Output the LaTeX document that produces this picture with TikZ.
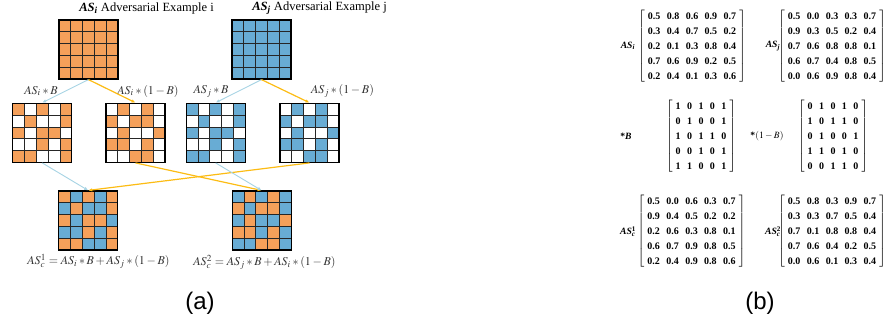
\documentclass[tikz,border=0pt]{standalone}
\usepackage{mathptmx}
\usepackage{fontspec}
\setmainfont{Liberation Serif}
\newfontfamily\capfont{Liberation Sans}
\usetikzlibrary{arrows.meta}

\definecolor{cello}{RGB}{245,160,90}
\definecolor{cellb}{RGB}{104,172,212}
\definecolor{arrb}{RGB}{168,212,228}
\definecolor{arro}{RGB}{252,188,20}

\setlength{\tabcolsep}{2.4pt}

\tikzset{
    gridframe/.style={draw, line width=0.9pt, minimum size=44.25pt, inner sep=0pt},
    bluearr/.style={draw=arrb, line width=0.7pt, -{Latex[length=3pt,width=2.6pt]}},
    orangearr/.style={draw=arro, line width=0.9pt, -{Latex[length=3pt,width=2.6pt]}},
    title/.style={font=\fontsize{9.4}{11}\selectfont, anchor=west, inner sep=0pt},
    opname/.style={font=\fontsize{9}{11}\selectfont, text=black!80, inner sep=0pt},
    matlabel/.style={font=\fontsize{7.2}{8}\selectfont, inner sep=0pt},
    matbox/.style={font=\fontsize{7.5}{11.25}\selectfont\bfseries, inner sep=0pt},
    sublabel/.style={font=\capfont\fontsize{18}{20}\selectfont, inner sep=0pt},
}

% 5x5 mask grid: centre x, centre y, colour where B=1, colour where B=0
\newcommand{\maskgrid}[4]{%
    \foreach \mv [count=\k from 0] in {1,0,1,0,1, 0,1,0,0,1, 1,0,1,1,0, 0,0,1,0,1, 1,1,0,0,1}{%
        \pgfmathtruncatemacro{\gr}{int(\k/5)}%
        \pgfmathtruncatemacro{\gc}{mod(\k,5)}%
        \ifnum\mv=1\relax\def\cellc{#3}\else\def\cellc{#4}\fi
        \filldraw[fill=\cellc, draw=black!85, line width=0.6pt]
            ({#1-29.5+\gc*11.8},{#2-29.5+\gr*11.8}) rectangle ++(11.8,11.8);
    }%
}

\begin{document}
\begin{tikzpicture}[x=0.75pt, y=-0.75pt]
        \useasboundingbox (0,0) rectangle (885,326);
        % Adversarial examples
            \maskgrid{88.5}{49.5}{cello}{cello}
            \maskgrid{261.5}{49.5}{cellb}{cellb}
            \node[gridframe] (asi) at (88.5,49.5) {};
            \node[gridframe] (asj) at (261.5,49.5) {};
            \node[title] (titlei) at (79,8) {\textbf{\textit{AS\textsubscript{i}}} Adversarial Example i};
            \node[title] (titlej) at (252,8) {\textbf{\textit{AS\textsubscript{j}}} Adversarial Example j};
        % Masked parts
            \maskgrid{42.2}{132.8}{cello}{white}
            \maskgrid{135.5}{132.8}{white}{cello}
            \maskgrid{215.6}{132.8}{cellb}{white}
            \maskgrid{309.5}{132.8}{white}{cellb}
            \node[gridframe] (asib) at (42.2,132.8) {};
            \node[gridframe] (asinb) at (135.5,132.8) {};
            \node[gridframe] (asjb) at (215.6,132.8) {};
            \node[gridframe] (asjnb) at (309.5,132.8) {};
            \node[opname] (opib) at (41,91) {$AS_i * B$};
            \node[opname] (opinb) at (148,91) {$AS_i *(1-B)$};
            \node[opname] (opjb) at (211,91) {$AS_j * B$};
            \node[opname] (opjnb) at (342.5,91) {$AS_j *(1-B)$};
        % Crossed examples
            \maskgrid{88.2}{220.5}{cello}{cellb}
            \maskgrid{261.6}{220.5}{cellb}{cello}
            \node[gridframe] (asca) at (88.2,220.5) {};
            \node[gridframe] (ascb) at (261.6,220.5) {};
            \node[opname] (eqa) at (98.5,261) {$AS_c^1 = AS_i * B + AS_j *(1-B)$};
            \node[opname] (eqb) at (264.5,262) {$AS_c^2 = AS_j * B + AS_i *(1-B)$};
        % Arrows
            \draw[bluearr] (asi.south) -- (asib.north);
            \draw[orangearr] (asi.south) -- (asinb.north);
            \draw[bluearr] (asj.south) -- (asjb.north);
            \draw[orangearr] (asj.south) -- (asjnb.north);
            \draw[bluearr] (asib.south) -- (asca.north);
            \draw[orangearr] (asjnb.south) -- (asca.north);
            \draw[orangearr] (asinb.south) -- (ascb.north);
            \draw[bluearr] (asjb.south) -- (ascb.north);
        % Matrices
            \node[matlabel] (labi) at (628,46) {\textbf{\textit{AS\textsubscript{i}}}};
            \node[matbox] (mati) at (692,46) {$\left[\begin{tabular}{ccccc}
                0.5 & 0.8 & 0.6 & 0.9 & 0.7\\
                0.3 & 0.4 & 0.7 & 0.5 & 0.2\\
                0.2 & 0.1 & 0.3 & 0.8 & 0.4\\
                0.7 & 0.6 & 0.9 & 0.2 & 0.5\\
                0.2 & 0.4 & 0.1 & 0.3 & 0.6
            \end{tabular}\right]$};
            \node[matlabel] (labj) at (773,46) {\textbf{\textit{AS\textsubscript{j}}}};
            \node[matbox] (matj) at (832,46) {$\left[\begin{tabular}{ccccc}
                0.5 & 0.0 & 0.3 & 0.3 & 0.7\\
                0.9 & 0.3 & 0.5 & 0.2 & 0.4\\
                0.7 & 0.6 & 0.8 & 0.8 & 0.1\\
                0.6 & 0.7 & 0.4 & 0.8 & 0.5\\
                0.0 & 0.6 & 0.9 & 0.8 & 0.4
            \end{tabular}\right]$};
            \node[matlabel] (labb) at (626,136.5) {\textbf{*\textit{B}}};
            \node[matbox] (matb) at (701,136.5) {$\left[\begin{tabular}{ccccc}
                1 & 0 & 1 & 0 & 1\\
                0 & 1 & 0 & 0 & 1\\
                1 & 0 & 1 & 1 & 0\\
                0 & 0 & 1 & 0 & 1\\
                1 & 1 & 0 & 0 & 1
            \end{tabular}\right]$};
            \node[matlabel] (labnb) at (767,136.5) {\textbf{*}$(1-B)$};
            \node[matbox] (matnb) at (833,136.5) {$\left[\begin{tabular}{ccccc}
                0 & 1 & 0 & 1 & 0\\
                1 & 0 & 1 & 1 & 0\\
                0 & 1 & 0 & 0 & 1\\
                1 & 1 & 0 & 1 & 0\\
                0 & 0 & 1 & 1 & 0
            \end{tabular}\right]$};
            \node[matlabel] (labca) at (628,231.5) {\textbf{\textit{AS}}\rlap{\textsuperscript{\textbf{1}}}\textsubscript{\textbf{\textit{c}}}};
            \node[matbox] (matca) at (691.5,231.5) {$\left[\begin{tabular}{ccccc}
                0.5 & 0.0 & 0.6 & 0.3 & 0.7\\
                0.9 & 0.4 & 0.5 & 0.2 & 0.2\\
                0.2 & 0.6 & 0.3 & 0.8 & 0.1\\
                0.6 & 0.7 & 0.9 & 0.8 & 0.5\\
                0.2 & 0.4 & 0.9 & 0.8 & 0.6
            \end{tabular}\right]$};
            \node[matlabel] (labcb) at (773,231.5) {\textbf{\textit{AS}}\rlap{\textsuperscript{\textbf{2}}}\textsubscript{\textbf{\textit{c}}}};
            \node[matbox] (matcb) at (832,231.5) {$\left[\begin{tabular}{ccccc}
                0.5 & 0.8 & 0.3 & 0.9 & 0.7\\
                0.3 & 0.3 & 0.7 & 0.5 & 0.4\\
                0.7 & 0.1 & 0.8 & 0.8 & 0.4\\
                0.7 & 0.6 & 0.4 & 0.2 & 0.5\\
                0.0 & 0.6 & 0.1 & 0.3 & 0.4
            \end{tabular}\right]$};
        % Sub-figure labels
            \node[sublabel] (capa) at (200,303) {(a)};
            \node[sublabel] (capb) at (760,303) {(b)};
\end{tikzpicture}
\end{document}
